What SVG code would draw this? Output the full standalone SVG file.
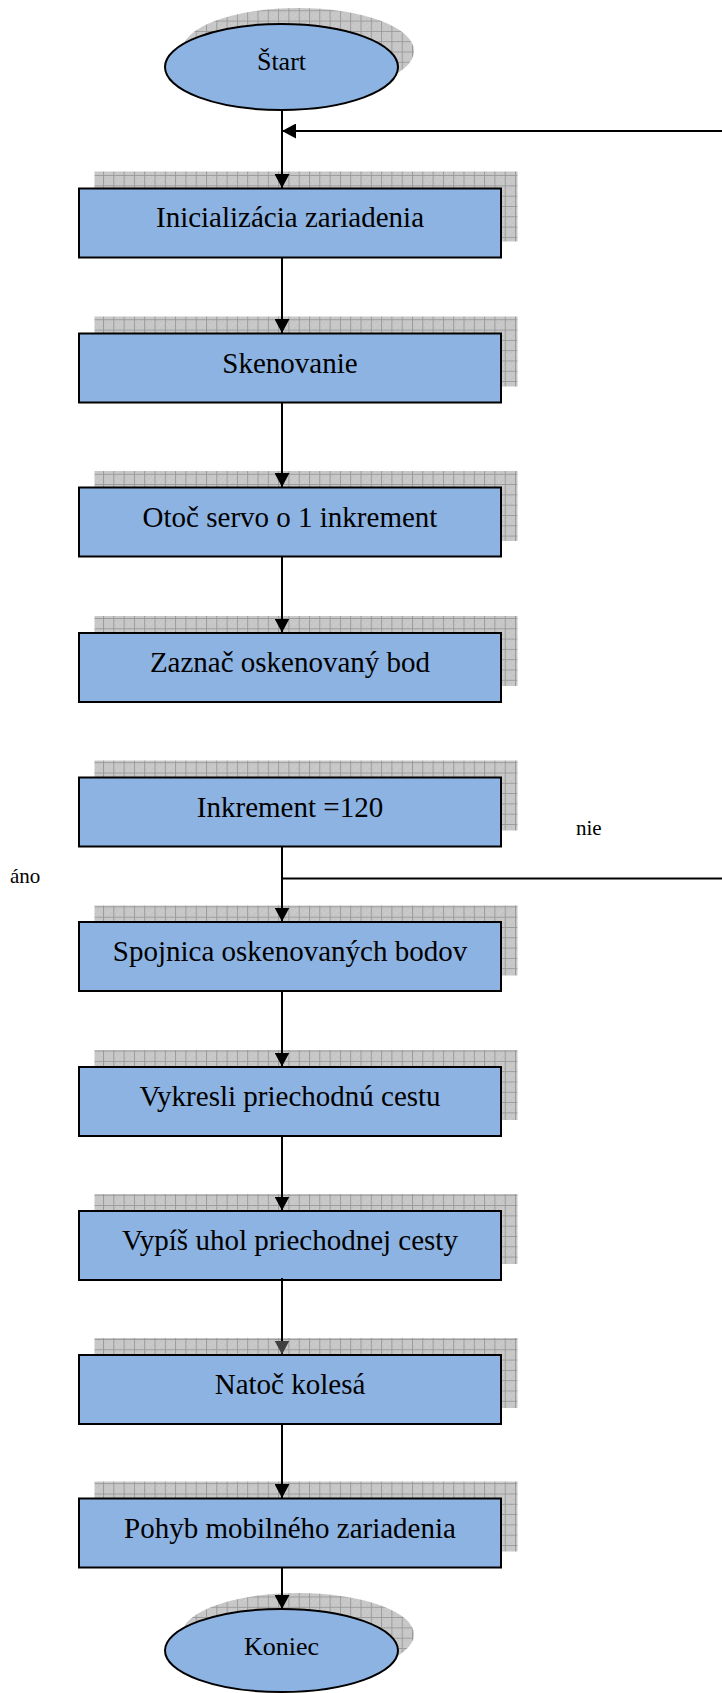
<svg xmlns="http://www.w3.org/2000/svg" width="722" height="1693" viewBox="0 0 722 1693">
<defs>
<pattern id="grid" patternUnits="userSpaceOnUse" width="10.3" height="10.3">
<rect width="10.3" height="10.3" fill="#c9c9c9"/>
<path d="M0 0.5H10.3M0.5 0V10.3" stroke="#9a9a9a" stroke-width="1" fill="none"/>
<rect x="2" y="2" width="1" height="1" fill="#b8b8b8"/><rect x="4" y="4" width="1" height="1" fill="#b8b8b8"/><rect x="6" y="2" width="1" height="1" fill="#b8b8b8"/><rect x="8" y="6" width="1" height="1" fill="#b8b8b8"/><rect x="2" y="7" width="1" height="1" fill="#b8b8b8"/><rect x="6" y="8" width="1" height="1" fill="#b8b8b8"/>
</pattern>
<marker id="ah" viewBox="0 0 14 15" refX="14" refY="7.5" markerWidth="14" markerHeight="15" markerUnits="userSpaceOnUse" orient="auto">
<path d="M0 0L14 7.5L0 15Z" fill="#000"/>
</marker>
<marker id="ahg" viewBox="0 0 14 15" refX="14" refY="7.5" markerWidth="14" markerHeight="15" markerUnits="userSpaceOnUse" orient="auto">
<path d="M0 0L14 7.5L0 15Z" fill="#404040"/>
</marker>
</defs>
<style>
.sh{fill:url(#grid)}
.bx{fill:#8db3e2;stroke:#000;stroke-width:2}
.t{font-family:"Liberation Serif","Times New Roman",serif;font-size:29px;fill:#000;text-anchor:middle}
.te{font-family:"Liberation Serif","Times New Roman",serif;font-size:26px;fill:#000;text-anchor:middle}
.lb{font-family:"Liberation Serif","Times New Roman",serif;font-size:21px;fill:#000}
.c{stroke:#000;stroke-width:2;fill:none}
</style>

<g id="start">
<ellipse class="sh" cx="298" cy="51" rx="116" ry="43"/>
<ellipse class="bx" cx="281.5" cy="67" rx="116.5" ry="43"/>
<text class="te" x="281.5" y="70">Štart</text>
</g>

<g id="n1">
<rect class="sh" x="94.5" y="171.5" width="423" height="70"/>
<rect class="bx" x="79" y="188.5" width="422" height="69"/>
<text class="t" x="290" y="227">Inicializácia zariadenia</text>
</g>
<g id="n2">
<rect class="sh" x="94.5" y="316.5" width="423" height="70"/>
<rect class="bx" x="79" y="333.5" width="422" height="69"/>
<text class="t" x="290" y="372.5">Skenovanie</text>
</g>
<g id="n3">
<rect class="sh" x="94.5" y="471" width="423" height="70"/>
<rect class="bx" x="79" y="487.5" width="422" height="69"/>
<text class="t" x="290" y="526.5">Otoč servo o 1 inkrement</text>
</g>
<g id="n4">
<rect class="sh" x="94.5" y="616" width="423" height="70"/>
<rect class="bx" x="79" y="633" width="422" height="69"/>
<text class="t" x="290" y="672">Zaznač oskenovaný bod</text>
</g>
<g id="n5">
<rect class="sh" x="94.5" y="760.5" width="423" height="70"/>
<rect class="bx" x="79" y="777.5" width="422" height="69"/>
<text class="t" x="290" y="816.5">Inkrement =120</text>
</g>
<g id="n6">
<rect class="sh" x="94.5" y="905.5" width="423" height="70"/>
<rect class="bx" x="79" y="922" width="422" height="69"/>
<text class="t" x="290" y="961">Spojnica oskenovaných bodov</text>
</g>
<g id="n7">
<rect class="sh" x="94.5" y="1050" width="423" height="70"/>
<rect class="bx" x="79" y="1067" width="422" height="69"/>
<text class="t" x="290" y="1106">Vykresli priechodnú cestu</text>
</g>
<g id="n8">
<rect class="sh" x="94.5" y="1194" width="423" height="70"/>
<rect class="bx" x="79" y="1211" width="422" height="69"/>
<text class="t" x="290" y="1250">Vypíš uhol priechodnej cesty</text>
</g>
<g id="n9">
<rect class="sh" x="94.5" y="1338" width="423" height="70"/>
<rect class="bx" x="79" y="1355" width="422" height="69"/>
<text class="t" x="290" y="1394">Natoč kolesá</text>
</g>
<g id="n10">
<rect class="sh" x="94.5" y="1481.5" width="423" height="70"/>
<rect class="bx" x="79" y="1498.5" width="422" height="69"/>
<text class="t" x="290" y="1537.5">Pohyb mobilného zariadenia</text>
</g>

<g id="end">
<ellipse class="sh" cx="298" cy="1634.5" rx="116" ry="41.5"/>
<ellipse class="bx" cx="281.5" cy="1650.5" rx="116.5" ry="41.5"/>
<text class="te" x="281.5" y="1655">Koniec</text>
</g>

<g id="labels">
<text class="lb" x="576" y="835">nie</text>
<text class="lb" x="10" y="883">áno</text>
</g>

<g id="connectors">
<path class="c" d="M282 110V188" marker-end="url(#ah)"/>
<path class="c" d="M722 131H282" marker-end="url(#ah)"/>
<path class="c" d="M282 258V333" marker-end="url(#ah)"/>
<path class="c" d="M282 403V487" marker-end="url(#ah)"/>
<path class="c" d="M282 557V632.5" marker-end="url(#ah)"/>
<path class="c" d="M282 847V921.5" marker-end="url(#ah)"/>
<path class="c" d="M282 878.5H722"/>
<path class="c" d="M282 991V1066.5" marker-end="url(#ah)"/>
<path class="c" d="M282 1136V1210.5" marker-end="url(#ah)"/>
<path class="c" d="M282 1278V1354.5" marker-end="url(#ahg)"/>
<path class="c" d="M282 1424V1498" marker-end="url(#ah)"/>
<path class="c" d="M282 1568V1609" marker-end="url(#ah)"/>
</g>
</svg>
